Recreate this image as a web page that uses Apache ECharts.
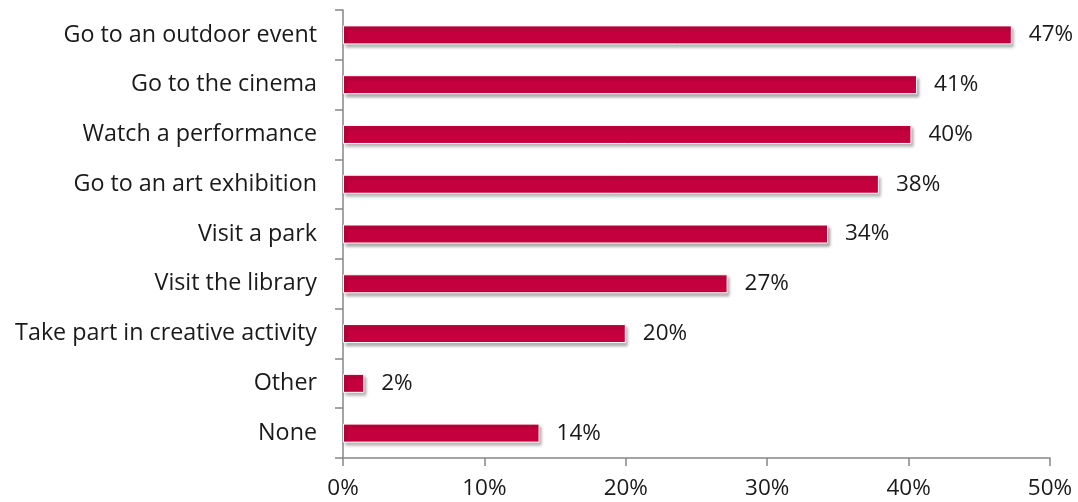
<!DOCTYPE html>
<html>
<head>
<meta charset="utf-8">
<script src="https://cdn.jsdelivr.net/npm/echarts@6/dist/echarts.min.js"></script>
<style>html,body{margin:0;padding:0;background:#fff;}#c{width:1078px;height:502px;}</style>
</head>
<body>
<div id="c"></div>
<script>
const categories = ["Go to an outdoor event","Go to the cinema","Watch a performance","Go to an art exhibition","Visit a park","Visit the library","Take part in creative activity","Other","None"];
const values = [47.3, 40.6, 40.2, 37.9, 34.3, 27.2, 20.0, 1.5, 13.9];
const xTicks = [0, 10, 20, 30, 40, 50];

const chart = echarts.init(document.getElementById('c'));
const font = '"Open Sans", sans-serif';
chart.setOption({
  animation: false,
  grid: {left: 343, right: 28, top: 10, bottom: 44},
  xAxis: {
    type: 'value', min: xTicks[0], max: xTicks[xTicks.length-1], interval: 10,
    axisLine: {show: true, lineStyle: {color: '#868686', width: 1.5}},
    axisTick: {show: true, length: 8, lineStyle: {color: '#868686', width: 1.5}},
    splitLine: {show: false},
    axisLabel: {formatter: v => v + '%', fontSize: 22.5, color: '#1a1a1a', margin: 19, fontFamily: font}
  },
  yAxis: {
    type: 'category', data: categories, inverse: true,
    axisLine: {show: true, lineStyle: {color: '#868686', width: 1.5}},
    axisTick: {show: true, length: 8, lineStyle: {color: '#868686', width: 1.5}},
    axisLabel: {fontSize: 23.3, color: '#1a1a1a', margin: 26, fontFamily: font, padding: [3, 0, 0, 0]}
  },
  series: [{
    type: 'bar', data: values, barWidth: 19,
    itemStyle: {color: '#C5003E', borderColor: '#fff', borderWidth: 1,
      shadowColor: 'rgba(0,0,0,0.35)', shadowBlur: 3, shadowOffsetX: 2, shadowOffsetY: 3},
    label: {show: true, position: 'right', distance: 17, fontSize: 22.5, color: '#1a1a1a', fontFamily: font,
      padding: [3, 0, 0, 0], formatter: p => Math.round(p.value) + '%'}
  }]
});
</script>
</body>
</html>
